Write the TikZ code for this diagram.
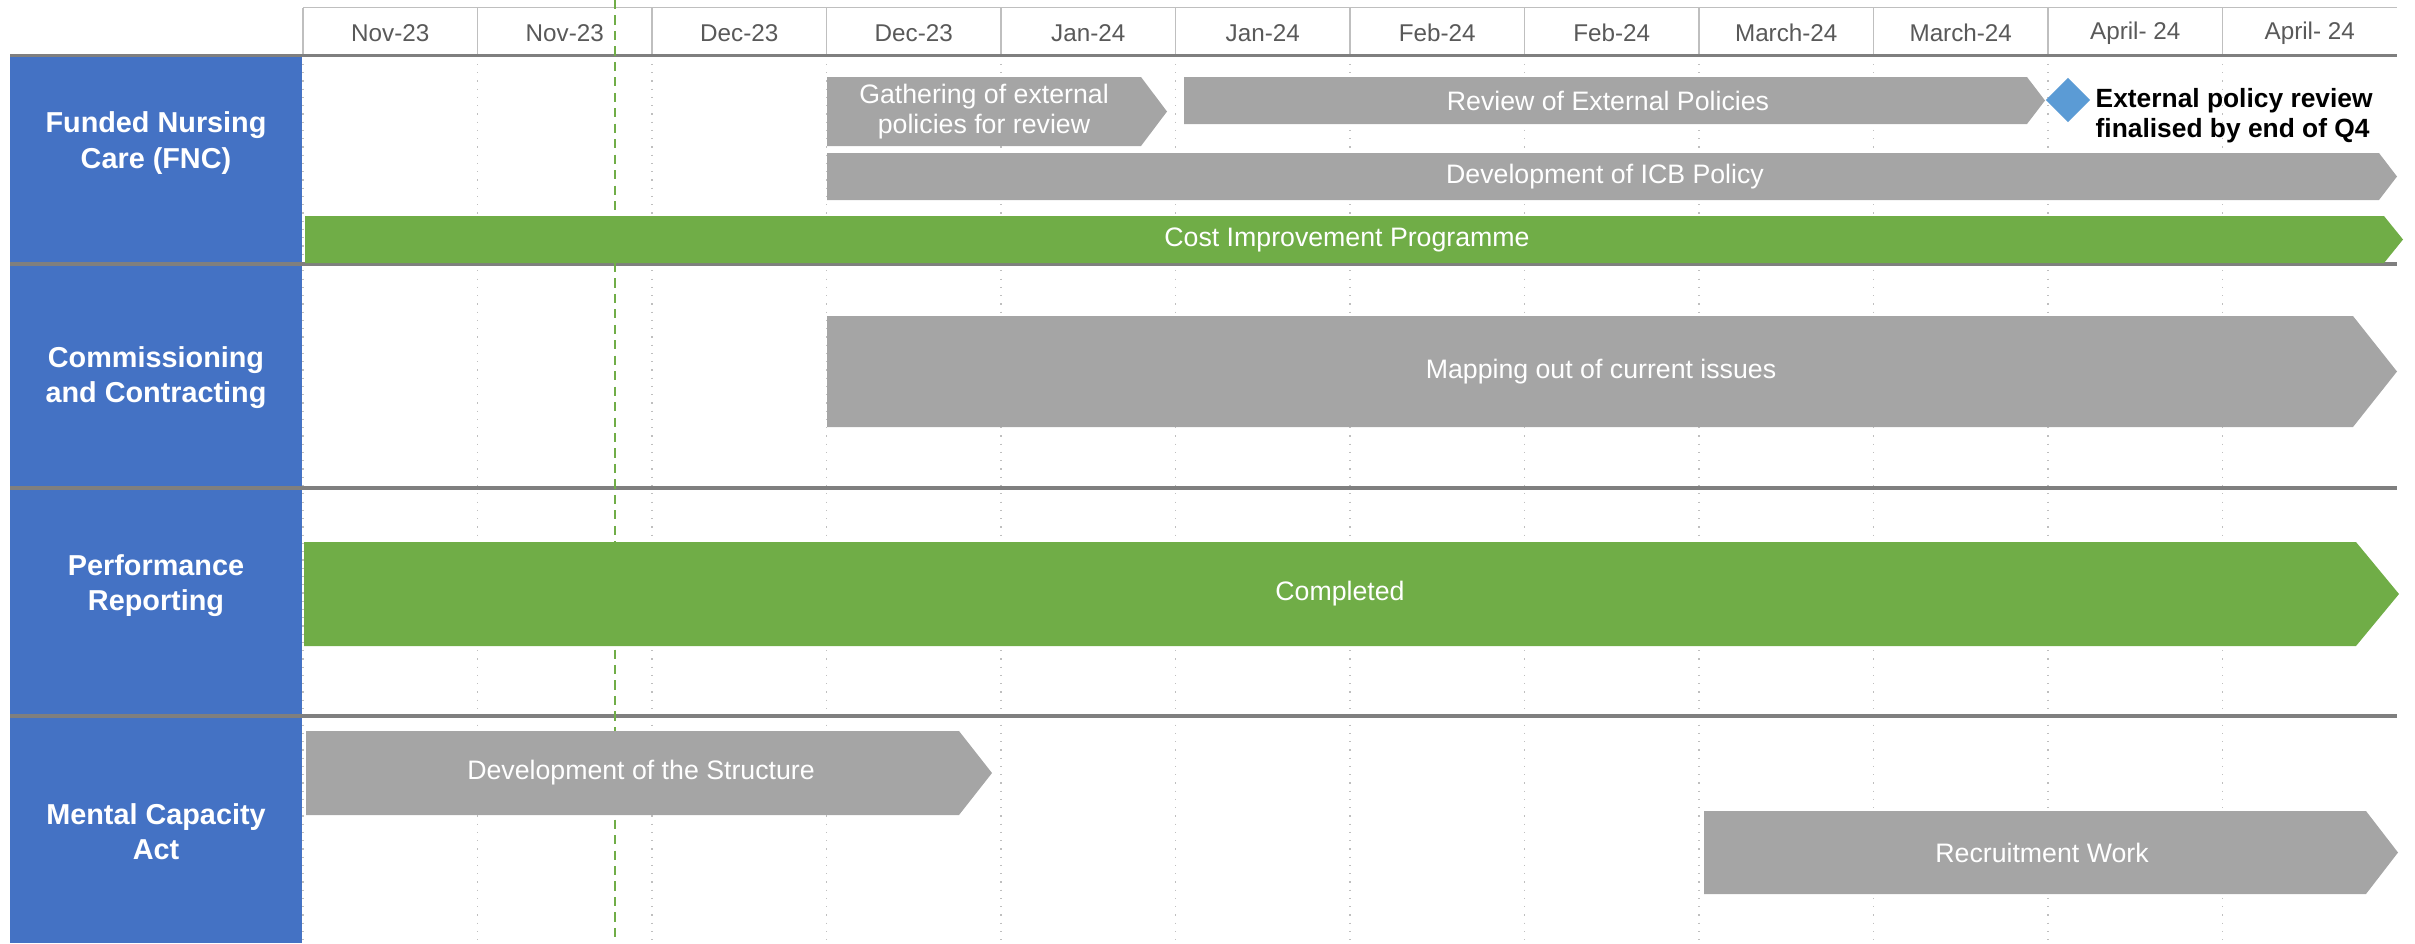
\documentclass[tikz,border=0pt]{standalone}
\usepackage{fontspec}
\setmainfont{Liberation Sans}
\usepackage{xcolor}
\usepackage{tikz}
\usetikzlibrary{positioning,shapes.geometric}
\definecolor{rowblue}{HTML}{4472C4}
\definecolor{bargray}{HTML}{A5A5A5}
\definecolor{bargreen}{HTML}{70AD47}
\definecolor{msblue}{HTML}{5B9BD5}
\definecolor{monthgray}{HTML}{595959}
\definecolor{sepgray}{HTML}{7F7F7F}
\definecolor{gridgray}{HTML}{BFBFBF}
\tikzset{
	rowlabel/.style = {
			text  = white,
			font  = \fontsize{8.2}{10}\selectfont\bfseries,
			align = center,
		},
	month/.style = {
			text = monthgray,
			font = \fontsize{6.9}{8}\selectfont,
		},
	barlabel/.style = {
			text  = white,
			font  = \fontsize{7.6}{8.6}\selectfont,
			align = center,
		},
	milestone/.style = {
			font      = \fontsize{7.5}{8.4}\selectfont\bfseries,
			align     = left,
			anchor    = west,
			inner sep = 0pt,
		},
	separator/.style = {draw=sepgray, line width=1.1pt},
	gridline/.style  = {draw=gridgray, dotted, line width=0.35pt},
	headline/.style  = {draw=gridgray, line width=0.5pt},
	graybar/.style   = {fill=bargray},
	greenbar/.style  = {fill=bargreen},
}

\begin{document}
\begin{tikzpicture}
        \useasboundingbox (0,0) rectangle (24.15,-9.43);
        % header
        \draw[headline] (3.03,-0.075) -- (23.97,-0.075);
        \draw[headline] (3.03,-0.075) -- (3.03,-0.555) (4.775,-0.075) -- (4.775,-0.555)
          (6.52,-0.075) -- (6.52,-0.555) (8.265,-0.075) -- (8.265,-0.555)
          (10.01,-0.075) -- (10.01,-0.555) (11.755,-0.075) -- (11.755,-0.555)
          (13.5,-0.075) -- (13.5,-0.555) (15.245,-0.075) -- (15.245,-0.555)
          (16.99,-0.075) -- (16.99,-0.555) (18.735,-0.075) -- (18.735,-0.555)
          (20.48,-0.075) -- (20.48,-0.555) (22.225,-0.075) -- (22.225,-0.555);
        \node[month] at (3.9025,-0.33) (m1) {Nov-23};
        \node[month] at (5.6475,-0.33) (m2) {Nov-23};
        \node[month] at (7.3925,-0.33) (m3) {Dec-23};
        \node[month] at (9.1375,-0.33) (m4) {Dec-23};
        \node[month] at (10.8825,-0.33) (m5) {Jan-24};
        \node[month] at (12.6275,-0.33) (m6) {Jan-24};
        \node[month] at (14.3725,-0.33) (m7) {Feb-24};
        \node[month] at (16.1175,-0.33) (m8) {Feb-24};
        \node[month] at (17.8625,-0.33) (m9) {March-24};
        \node[month] at (19.6075,-0.33) (m10) {March-24};
        \node[month] at (21.3525,-0.33) (m11) {April- 24};
        \node[month] at (23.0975,-0.33) (m12) {April- 24};
        % grid
        \draw[gridline] (3.03,-0.555) -- (3.03,-9.43) (4.775,-0.555) -- (4.775,-9.43)
          (6.52,-0.555) -- (6.52,-9.43) (8.265,-0.555) -- (8.265,-9.43)
          (10.01,-0.555) -- (10.01,-9.43) (11.755,-0.555) -- (11.755,-9.43)
          (13.5,-0.555) -- (13.5,-9.43) (15.245,-0.555) -- (15.245,-9.43)
          (16.99,-0.555) -- (16.99,-9.43) (18.735,-0.555) -- (18.735,-9.43)
          (20.48,-0.555) -- (20.48,-9.43) (22.225,-0.555) -- (22.225,-9.43);
        % row labels
        \fill[rowblue] (0.10,-0.555) rectangle (3.02,-9.43);
        \node[rowlabel] at (1.56,-1.43) (fnc) {Funded Nursing\\Care (FNC)};
        \node[rowlabel] at (1.56,-3.78) (cc) {Commissioning\\and Contracting};
        \node[rowlabel] at (1.56,-5.86) (pr) {Performance\\Reporting};
        \node[rowlabel] at (1.56,-8.32) (mca) {Mental Capacity\\Act};
        \draw[separator] (0.10,-0.555) -- (23.97,-0.555);
        \draw[separator] (0.10,-2.64) -- (23.97,-2.64);
        \draw[separator] (0.10,-4.88) -- (23.97,-4.88);
        \draw[separator] (0.10,-7.16) -- (23.97,-7.16);
        % today
        \draw[bargreen, line width=0.75pt, dash pattern=on 2.6pt off 1.8pt] (6.15,0) -- (6.15,-9.43);
        % funded nursing care
        \fill[graybar] (8.27,-0.77) -- (11.41,-0.77) -- (11.67,-1.115) -- (11.41,-1.46) -- (8.27,-1.46) -- cycle;
        \node[barlabel] at (9.84,-1.115) (gather) {Gathering of external\\policies for review};
        \fill[graybar] (11.84,-0.77) -- (20.27,-0.77) -- (20.45,-1.005) -- (20.27,-1.24) -- (11.84,-1.24) -- cycle;
        \node[barlabel] at (16.08,-1.005) (review) {Review of External Policies};
        \node[diamond, fill=msblue, minimum size=0.45cm, inner sep=0pt] at (20.68,-1.00) (ms) {};
        \node[milestone] at (20.95,-1.155) (mstext) {External policy review\\finalised by end of Q4};
        \fill[graybar] (8.27,-1.53) -- (23.79,-1.53) -- (23.97,-1.765) -- (23.79,-2.00) -- (8.27,-2.00) -- cycle;
        \node[barlabel] at (16.05,-1.765) (icb) {Development of ICB Policy};
        \fill[greenbar] (3.05,-2.16) -- (23.84,-2.16) -- (24.03,-2.395) -- (23.84,-2.63) -- (3.05,-2.63) -- cycle;
        \node[barlabel] at (13.47,-2.395) (cip) {Cost Improvement Programme};
        % commissioning and contracting
        \fill[graybar] (8.27,-3.16) -- (23.53,-3.16) -- (23.97,-3.715) -- (23.53,-4.27) -- (8.27,-4.27) -- cycle;
        \node[barlabel] at (16.01,-3.715) (mapping) {Mapping out of current issues};
        % performance reporting
        \fill[greenbar] (3.04,-5.42) -- (23.56,-5.42) -- (23.99,-5.94) -- (23.56,-6.46) -- (3.04,-6.46) -- cycle;
        \node[barlabel] at (13.40,-5.94) (done) {Completed};
        % mental capacity act
        \fill[graybar] (3.06,-7.31) -- (9.59,-7.31) -- (9.92,-7.73) -- (9.59,-8.15) -- (3.06,-8.15) -- cycle;
        \node[barlabel] at (6.41,-7.73) (structure) {Development of the Structure};
        \fill[graybar] (17.04,-8.11) -- (23.66,-8.11) -- (23.98,-8.525) -- (23.66,-8.94) -- (17.04,-8.94) -- cycle;
        \node[barlabel] at (20.42,-8.525) (recruit) {Recruitment Work};
      \end{tikzpicture}
\end{document}
